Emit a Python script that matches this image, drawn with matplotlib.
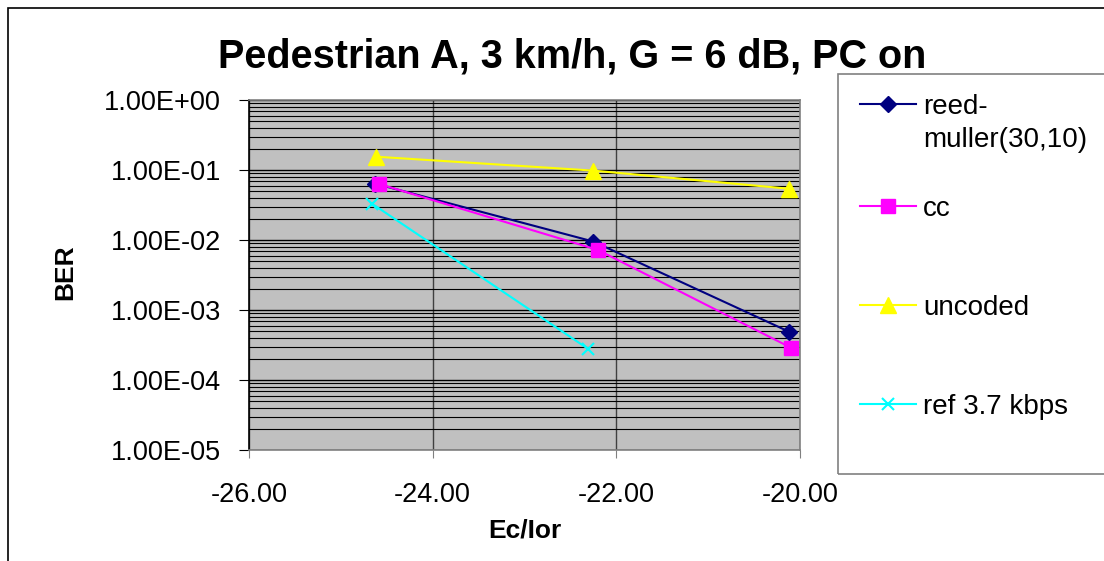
import matplotlib
matplotlib.use("Agg")
import matplotlib.pyplot as plt
from matplotlib.patches import Rectangle
from matplotlib.ticker import LogLocator, FixedLocator, FuncFormatter, NullFormatter

plt.rcParams['font.family'] = ['Liberation Sans', 'DejaVu Sans']

title = "Pedestrian A, 3 km/h, G = 6 dB, PC on"
x_label = "Ec/Ior"
y_label = "BER"

rm_x = [-24.63, -22.25, -20.12]
rm_y = [0.064, 0.0095, 0.00049]
cc_x = [-24.58, -22.20, -20.10]
cc_y = [0.063, 0.0072, 0.00029]
unc_x = [-24.62, -22.25, -20.12]
unc_y = [0.155, 0.098, 0.054]
ref_x = [-24.66, -22.31]
ref_y = [0.033, 0.00028]

series_labels = ["reed-\nmuller(30,10)", "cc", "uncoded", "ref 3.7 kbps"]
x_ticks = [-26.0, -24.0, -22.0, -20.0]

W, H = 1104, 561
fig = plt.figure(figsize=(W / 100, H / 100), dpi=100)
fig.patch.set_facecolor('white')

# outer chart border
fig.patches.append(Rectangle((8 / W, -0.1), 1.2, 1 - 8 / H + 0.1, transform=fig.transFigure,
                             fill=False, edgecolor='black', linewidth=1.2))

L, R, T, B = 249, 800, 100, 450
ax = fig.add_axes([L / W, 1 - B / H, (R - L) / W, (B - T) / H])
ax.set_facecolor('#C0C0C0')
ax.set_yscale('log')
ax.set_xlim(-26, -20)
ax.set_ylim(1e-5, 1)

ax.yaxis.set_major_locator(LogLocator(base=10, numticks=10))
ax.yaxis.set_minor_locator(LogLocator(base=10, subs=range(2, 10), numticks=20))
ax.yaxis.set_minor_formatter(NullFormatter())
ax.yaxis.set_major_formatter(FuncFormatter(lambda v, p: "%.2E" % v))
ax.xaxis.set_major_locator(FixedLocator(x_ticks))
ax.xaxis.set_major_formatter(FuncFormatter(lambda v, p: "%.2f" % v))

ax.grid(True, which='major', axis='y', color='black', linewidth=1.0)
ax.grid(True, which='minor', axis='y', color='black', linewidth=0.8)
ax.grid(True, which='major', axis='x', color='#404040', linewidth=1.0)
ax.set_axisbelow(True)

ax.tick_params(axis='y', which='minor', length=0)
ax.tick_params(axis='y', which='major', labelsize=19.5, length=7, pad=13, color='black', direction='out')
ax.tick_params(axis='x', which='major', labelsize=19.5, length=6, pad=17, color='#808080', direction='out')
for sp in ax.spines.values():
    sp.set_color('#808080')
    sp.set_linewidth(1.2)
ax.spines['left'].set_color('black')

l1, = ax.plot(rm_x, rm_y, color='#000080', marker='D', markersize=8, linewidth=1.5, label=series_labels[0])
l2, = ax.plot(cc_x, cc_y, color='#FF00FF', marker='s', markersize=9.5, linewidth=1.5, label=series_labels[1])
l3, = ax.plot(unc_x, unc_y, color='#FFFF00', marker='^', markersize=11, linewidth=1.5, label=series_labels[2])
l4, = ax.plot(ref_x, ref_y, color='#00FFFF', marker='x', markersize=9, markeredgewidth=1.5,
              linewidth=1.5, label=series_labels[3])

ax.set_xlabel(x_label, fontsize=19, fontweight='bold')
ax.xaxis.set_label_coords(0.5, (B - 519) / (B - T))
ax.xaxis.label.set_va('top')
ax.set_ylabel(y_label, fontsize=19, fontweight='bold')
ax.yaxis.label.set_va('center')
ax.yaxis.set_label_coords((65 - L) / (R - L), 0.5 + (275 - 272) / (B - T))

fig.text(572 / W, 1 - 67 / H, title, fontsize=28.5, fontweight='bold', ha='center', va='baseline')

# legend box
fig.patches.append(Rectangle((838 / W, 1 - 474 / H), 1.0, (474 - 74) / H, transform=fig.transFigure,
                             fill=False, edgecolor='#808080', linewidth=1.2))

leg_kw = dict(loc='upper left', frameon=False, fontsize=20, handlelength=2.0,
              handletextpad=0.28, borderaxespad=0, borderpad=0)
legA = fig.legend(handles=[l1], bbox_to_anchor=(860 / W, 1 - 94 / H), **leg_kw)
for t in legA.get_texts():
    t.set_linespacing(1.35)
try:
    col = legA._legend_handle_box.get_children()[0]
    for item in col.get_children():
        item.align = 'top'
except Exception:
    pass
legB = fig.legend(handles=[l2, l3, l4], bbox_to_anchor=(860 / W, 1 - 196 / H),
                  labelspacing=2.63, **leg_kw)

fig.savefig('out.png', dpi=100)
